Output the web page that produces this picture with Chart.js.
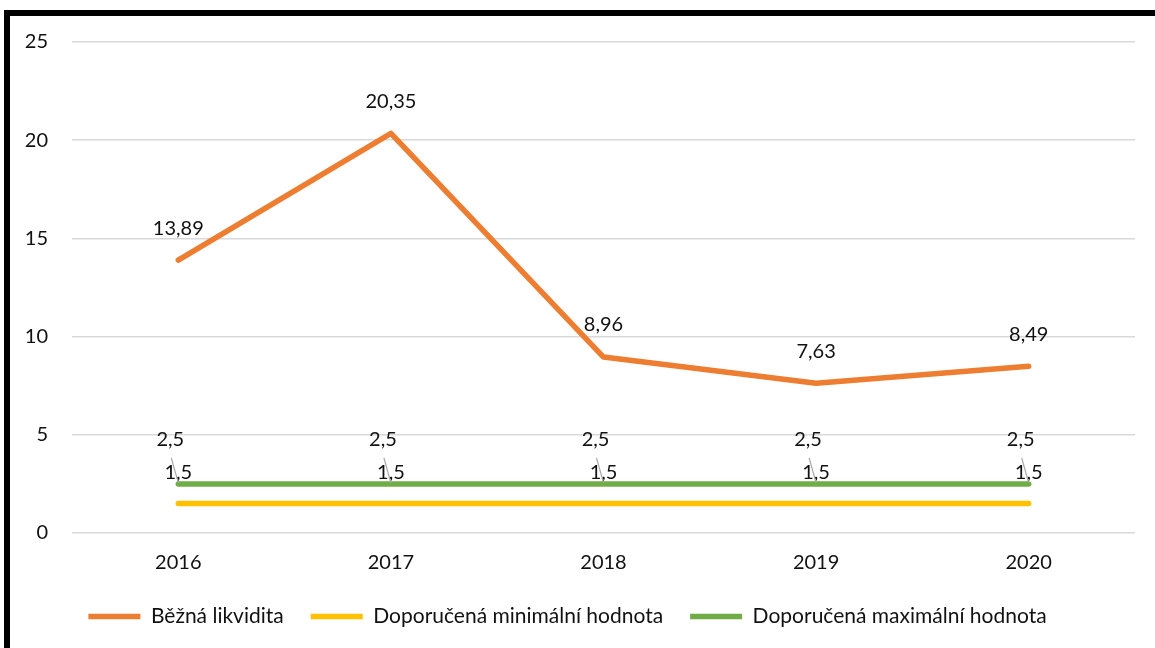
<!DOCTYPE html>
<html>
<head>
<meta charset="utf-8">
<script src="https://cdn.jsdelivr.net/npm/chart.js@4/dist/chart.umd.min.js"></script>
<style>
  html, body { margin: 0; padding: 0; background: #fff; overflow: hidden; }
  #wrap { position: relative; width: 1155px; height: 648px; }
  #chart { position: absolute; left: 0; top: 0; }
  .bt { position: absolute; left: 4px; top: 10px; width: 1151px; height: 6px; background: #000; }
  .bl { position: absolute; left: 4px; top: 10px; width: 6px; height: 638px; background: #000; }
</style>
</head>
<body>
<div id="wrap">
  <canvas id="chart" width="1155" height="648"></canvas>
  <div class="bt"></div>
  <div class="bl"></div>
</div>
<script>
const years = ["2016", "2017", "2018", "2019", "2020"];
const bezna = [13.89, 20.35, 8.96, 7.63, 8.49];
const minHodnota = [1.5, 1.5, 1.5, 1.5, 1.5];
const maxHodnota = [2.5, 2.5, 2.5, 2.5, 2.5];
const yTicks = [0, 5, 10, 15, 20, 25];

const FONT = "Lato, 'Open Sans', sans-serif";
const TEXT = "#111";

// label offsets per dataset: [dx, dy, leader line?]
const labelPos = [
    [0, -32, false],
    [0, -31, false],
    [-8, -44, true],
];

const dataLabels = {
    id: "dataLabels",
    afterDatasetsDraw(chart) {
        const ctx = chart.ctx;
        ctx.save();
        ctx.font = "20px " + FONT;
        ctx.textAlign = "center";
        ctx.textBaseline = "middle";
        chart.data.datasets.forEach((ds, i) => {
            const meta = chart.getDatasetMeta(i);
            const [dx, dy, leader] = labelPos[i];
            meta.data.forEach((pt, j) => {
                if (leader) {
                    ctx.strokeStyle = "#a6a6a6";
                    ctx.lineWidth = 1.2;
                    ctx.beginPath();
                    ctx.moveTo(pt.x - 7, pt.y - 26);
                    ctx.lineTo(pt.x, pt.y - 1);
                    ctx.stroke();
                }
                ctx.fillStyle = TEXT;
                ctx.fillText(String(ds.data[j]).replace(".", ","), pt.x + dx, pt.y + dy);
            });
        });
        ctx.restore();
    }
};

const ctx = document.getElementById("chart").getContext("2d");
new Chart(ctx, {
    type: "line",
    data: {
        labels: years,
        datasets: [
            { label: "Běžná likvidita", data: bezna, borderColor: "#ED7D31", backgroundColor: "#ED7D31" },
            { label: "Doporučená minimální hodnota", data: minHodnota, borderColor: "#FFC000", backgroundColor: "#FFC000" },
            { label: "Doporučená maximální hodnota", data: maxHodnota, borderColor: "#70AD47", backgroundColor: "#70AD47" },
        ].map(d => Object.assign(d, {
            borderWidth: 5.5,
            borderCapStyle: "round",
            borderJoinStyle: "round",
            pointRadius: 0,
            tension: 0,
            fill: false,
            clip: false,
        })),
    },
    options: {
        responsive: false,
        animation: false,
        layout: { padding: { top: 42, right: 20, bottom: 11, left: 0 } },
        plugins: {
            tooltip: { enabled: false },
            legend: {
                position: "bottom",
                labels: {
                    usePointStyle: true,
                    pointStyleWidth: 52,
                    pointStyle: "line",
                    boxHeight: 20,
                    padding: 27,
                    color: TEXT,
                    font: { family: FONT, size: 21 },
                },
            },
        },
        scales: {
            x: {
                offset: true,
                afterFit: s => { s.height = 46; },
                grid: { display: false, drawTicks: false, offset: true },
                border: { display: false },
                ticks: { color: TEXT, padding: 18, font: { family: FONT, size: 20 } },
            },
            y: {
                min: 0,
                max: 25,
                afterFit: s => { s.width = 72; },
                afterBuildTicks: s => { s.ticks = yTicks.map(v => ({ value: v })); },
                grid: { color: "#d9d9d9", lineWidth: 1.5, drawTicks: false },
                border: { display: false },
                ticks: { color: TEXT, padding: 24, font: { family: FONT, size: 20 } },
            },
        },
    },
    plugins: [dataLabels],
});
</script>
</body>
</html>
